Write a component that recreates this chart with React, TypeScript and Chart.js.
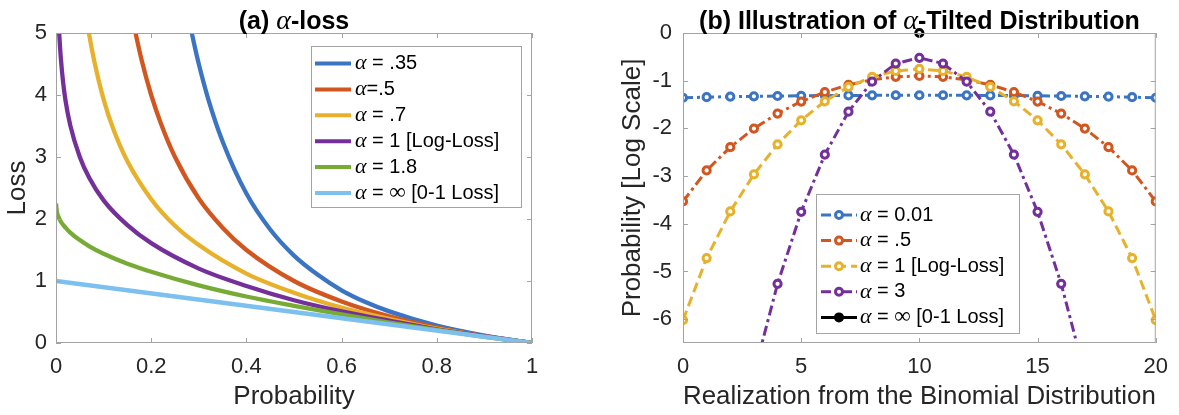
import React, { useEffect, useRef } from "react";
import { Chart, registerables } from "chart.js";
Chart.register(...registerables);

const SANS = "'Liberation Sans', Arial, Helvetica, sans-serif";
const SERIF = "'Liberation Serif', 'Times New Roman', serif";
const TEXT = "#262626";
const FRAME = "#a3a3a3";

// ---------- Panel (a): alpha-loss ----------
const A_TITLE = "(a) α-loss";
const A_X_TICKS = [0, 0.2, 0.4, 0.6, 0.8, 1];
const A_X_TICK_LABELS = ["0", "0.2", "0.4", "0.6", "0.8", "1"];
const A_Y_TICKS = [0, 1, 2, 3, 4, 5];
const A_Y_TICK_LABELS = ["0", "1", "2", "3", "4", "5"];

const A_P_035 = [0.28, 0.29, 0.3, 0.32, 0.35, 0.4, 0.45, 0.5, 0.55, 0.6, 0.65, 0.7, 0.8, 0.9, 1.0];
const A_L_035 = [5.19, 4.83, 4.5, 3.93, 3.25, 2.41, 1.83, 1.41, 1.1, 0.85, 0.66, 0.51, 0.28, 0.12, 0];
const A_P_05 = [0.16, 0.18, 0.2, 0.22, 0.25, 0.3, 0.35, 0.4, 0.5, 0.6, 0.7, 0.8, 0.9, 1.0];
const A_L_05 = [5.25, 4.56, 4.0, 3.55, 3.0, 2.33, 1.86, 1.5, 1.0, 0.67, 0.43, 0.25, 0.11, 0];
const A_P_07 = [0.06, 0.07, 0.08, 0.1, 0.12, 0.15, 0.2, 0.25, 0.3, 0.4, 0.5, 0.6, 0.7, 0.8, 0.9, 1.0];
const A_L_07 = [5.46, 4.96, 4.56, 3.93, 3.46, 2.93, 2.32, 1.89, 1.58, 1.12, 0.81, 0.57, 0.39, 0.23, 0.11, 0];
const A_P_1 = [0.005, 0.007, 0.01, 0.015, 0.02, 0.03, 0.05, 0.07, 0.1, 0.15, 0.2, 0.3, 0.4, 0.5, 0.6, 0.7, 0.8, 0.9, 1.0];
const A_L_1 = [5.3, 4.96, 4.61, 4.2, 3.91, 3.51, 3.0, 2.66, 2.3, 1.9, 1.61, 1.2, 0.92, 0.69, 0.51, 0.36, 0.22, 0.11, 0];
const A_P_18 = [0, 0.002, 0.005, 0.01, 0.02, 0.03, 0.05, 0.07, 0.1, 0.15, 0.2, 0.3, 0.4, 0.5, 0.6, 0.7, 0.8, 0.9, 1.0];
const A_L_18 = [2.25, 2.11, 2.04, 1.96, 1.86, 1.78, 1.66, 1.56, 1.44, 1.28, 1.15, 0.93, 0.75, 0.6, 0.46, 0.33, 0.21, 0.1, 0];
const A_P_INF = [0, 0.5, 1.0];
const A_L_INF = [1.0, 0.5, 0];

const A_LABELS = ["α = .35", "α=.5", "α = .7", "α = 1 [Log-Loss]", "α = 1.8", "α = ∞ [0-1 Loss]"];
const A_XS = [A_P_035, A_P_05, A_P_07, A_P_1, A_P_18, A_P_INF];
const A_YS = [A_L_035, A_L_05, A_L_07, A_L_1, A_L_18, A_L_INF];
const A_COLORS = ["#3c74c4", "#d2561f", "#e8b12c", "#74309a", "#78ab36", "#7cc0f0"];

// ---------- Panel (b): alpha-tilted distribution ----------
const B_TITLE = "(b) Illustration of α-Tilted Distribution";
const B_X = [0, 1, 2, 3, 4, 5, 6, 7, 8, 9, 10, 11, 12, 13, 14, 15, 16, 17, 18, 19, 20];
const B_X_TICKS = [0, 5, 10, 15, 20];
const B_X_TICK_LABELS = ["0", "5", "10", "15", "20"];
const B_Y_TICKS = [0, -1, -2, -3, -4, -5, -6];
const B_Y_TICK_LABELS = ["0", "-1", "-2", "-3", "-4", "-5", "-6"];

const B_A001 = [-1.358, -1.345, -1.335, -1.327, -1.321, -1.316, -1.312, -1.309, -1.307, -1.305, -1.305,
  -1.305, -1.307, -1.309, -1.312, -1.316, -1.321, -1.327, -1.335, -1.345, -1.358];
const B_A05 = [-3.532, -2.881, -2.393, -2.004, -1.689, -1.437, -1.238, -1.087, -0.982, -0.919, -0.899,
  -0.919, -0.982, -1.087, -1.238, -1.437, -1.689, -2.004, -2.393, -2.881, -3.532];
const B_A1 = [-6.021, -4.72, -3.742, -2.964, -2.335, -1.83, -1.432, -1.131, -0.92, -0.795, -0.754,
  -0.795, -0.92, -1.131, -1.432, -1.83, -2.335, -2.964, -3.742, -4.72, -6.021];
const B_A3 = [-16.32, -12.42, -9.48, -7.15, -5.26, -3.75, -2.55, -1.65, -1.02, -0.64, -0.52,
  -0.64, -1.02, -1.65, -2.55, -3.75, -5.26, -7.15, -9.48, -12.42, -16.32];
const B_AINF_X = [10];
const B_AINF_Y = [0];

const B_LABELS = ["α = 0.01", "α = .5", "α = 1 [Log-Loss]", "α = 3", "α = ∞ [0-1 Loss]"];
const B_COLORS = ["#3c74c4", "#d2561f", "#e8b12c", "#74309a", "#000000"];
const DASHDOT = [10, 4, 3, 4];
const DASHED = [10, 5];
const B_DASHES = [DASHDOT, DASHDOT, DASHED, DASHDOT, []];

// ---------- helpers ----------
function runsOf(text: string, size: number, bold: boolean) {
  const runs: { t: string; f: string }[] = [];
  let cur = "";
  const sans = `${bold ? "bold " : ""}${size}px ${SANS}`;
  for (const ch of Array.from(text)) {
    if (ch === "α" || ch === "∞") {
      if (cur) runs.push({ t: cur, f: sans });
      cur = "";
      runs.push({ t: ch, f: ch === "α" ? `italic ${Math.round(size * 1.1)}px ${SERIF}` : `${Math.round(size * 1.15)}px ${SERIF}` });
    } else cur += ch;
  }
  if (cur) runs.push({ t: cur, f: sans });
  return runs;
}

function drawRich(ctx: CanvasRenderingContext2D, text: string, x: number, y: number, size: number, align: "left" | "center", bold = false) {
  const runs = runsOf(text, size, bold);
  let total = 0;
  const widths = runs.map((r) => {
    ctx.font = r.f;
    const w = ctx.measureText(r.t).width;
    total += w;
    return w;
  });
  let cx = align === "center" ? x - total / 2 : x;
  ctx.textBaseline = "middle";
  ctx.textAlign = "left";
  ctx.fillStyle = "#000";
  runs.forEach((r, i) => {
    ctx.font = r.f;
    ctx.fillText(r.t, cx, y);
    cx += widths[i];
  });
}

function framePlugin(opts: {
  title: string;
  legend: { x: number; y: number; w: number; h: number; rowY: number; rowStep: number; x0: number; x1: number; tx: number; size: number };
  labels: string[];
  colors: string[];
  dashes?: number[][];
  markers?: boolean;
  lineWidth: number;
}) {
  return {
    id: "frame_" + opts.title.length,
    afterDraw(chart: any) {
      const ctx: CanvasRenderingContext2D = chart.ctx;
      const { left, right, top, bottom } = chart.chartArea;
      const xs = chart.scales.x;
      const ys = chart.scales.y;
      ctx.save();
      ctx.strokeStyle = FRAME;
      ctx.lineWidth = 1;
      ctx.setLineDash([]);
      ctx.strokeRect(left + 0.5, top + 0.5, right - left - 1, bottom - top - 1);
      const TL = 5;
      ctx.beginPath();
      xs.ticks.forEach((t: any) => {
        const px = Math.round(xs.getPixelForValue(t.value)) + 0.5;
        ctx.moveTo(px, bottom);
        ctx.lineTo(px, bottom - TL);
        ctx.moveTo(px, top);
        ctx.lineTo(px, top + TL);
      });
      ys.ticks.forEach((t: any) => {
        const py = Math.round(ys.getPixelForValue(t.value)) + 0.5;
        ctx.moveTo(left, py);
        ctx.lineTo(left + TL, py);
        ctx.moveTo(right, py);
        ctx.lineTo(right - TL, py);
      });
      ctx.stroke();

      // title
      drawRich(ctx, opts.title, (left + right) / 2, 22, 25, "center", true);

      // legend
      const L = opts.legend;
      ctx.fillStyle = "#fff";
      ctx.fillRect(L.x, L.y, L.w, L.h);
      ctx.strokeStyle = FRAME;
      ctx.lineWidth = 1;
      ctx.strokeRect(L.x + 0.5, L.y + 0.5, L.w, L.h);
      opts.labels.forEach((lab, i) => {
        const y = L.rowY + L.rowStep * i;
        const dash = opts.dashes ? opts.dashes[i] : [];
        ctx.strokeStyle = opts.colors[i];
        ctx.lineWidth = opts.lineWidth;
        ctx.setLineDash(dash);
        ctx.lineDashOffset = 0;
        ctx.beginPath();
        ctx.moveTo(L.x0, y);
        ctx.lineTo(L.x1, y);
        ctx.stroke();
        ctx.setLineDash([]);
        if (opts.markers) {
          const mx = (L.x0 + L.x1) / 2;
          ctx.beginPath();
          ctx.arc(mx, y, 3.5, 0, Math.PI * 2);
          const solid = !dash || dash.length === 0;
          ctx.fillStyle = solid ? opts.colors[i] : "#fff";
          ctx.fill();
          ctx.lineWidth = 3;
          ctx.strokeStyle = opts.colors[i];
          ctx.stroke();
        }
        drawRich(ctx, lab, L.tx, y, L.size, "left");
      });
      ctx.restore();
    },
  };
}

function axisCommon(ticks: number[], labels: string[], min: number, max: number, pad: number, fit: (s: any) => void, title: string, titlePad: any) {
  return {
    type: "linear" as const,
    min,
    max,
    afterBuildTicks: (s: any) => {
      s.ticks = ticks.map((v) => ({ value: v }));
    },
    afterFit: fit,
    grid: { display: false, drawTicks: false },
    border: { display: false },
    ticks: {
      font: { family: SANS, size: 22 },
      color: TEXT,
      padding: pad,
      maxRotation: 0,
      autoSkip: false,
      callback: (v: any) => {
        const k = ticks.indexOf(Number(v));
        return k >= 0 ? labels[k] : "";
      },
    },
    title: { display: true, text: title, font: { family: SANS, size: 26 }, color: TEXT, padding: titlePad },
  };
}

function configA(): any {
  return {
    type: "line",
    data: {
      datasets: A_LABELS.map((lab, i) => ({
        label: lab,
        data: A_XS[i].map((x, j) => ({ x, y: A_YS[i][j] })),
        borderColor: A_COLORS[i],
        borderWidth: 4.3,
        pointRadius: 0,
        fill: false,
        cubicInterpolationMode: "monotone",
        order: A_LABELS.length - i,
      })),
    },
    options: {
      responsive: false,
      animation: false,
      devicePixelRatio: 1,
      layout: { padding: { left: 0, right: 68, top: 33, bottom: 0 } },
      plugins: { legend: { display: false }, tooltip: { enabled: false }, title: { display: false } },
      scales: {
        x: axisCommon(A_X_TICKS, A_X_TICK_LABELS, 0, 1, 11, (s: any) => { s.height = 72; }, "Probability", { top: 0, bottom: 3 }),
        y: axisCommon(A_Y_TICKS, A_Y_TICK_LABELS, 0, 5, 9, (s: any) => { s.width = 56; }, "Loss", { top: 2, bottom: 0 }),
      },
    },
    plugins: [
      framePlugin({
        title: A_TITLE,
        legend: { x: 311, y: 46, w: 210, h: 161, rowY: 63.5, rowStep: 25.9, x0: 315, x1: 351, tx: 355, size: 20 },
        labels: A_LABELS,
        colors: A_COLORS,
        lineWidth: 4,
      }),
    ],
  };
}

function configB(): any {
  const series = [B_A001, B_A05, B_A1, B_A3];
  const datasets: any[] = series.map((ys, i) => ({
    label: B_LABELS[i],
    data: B_X.map((x, j) => ({ x, y: ys[j] })),
    borderColor: B_COLORS[i],
    borderWidth: 3,
    borderDash: B_DASHES[i],
    pointRadius: 3.6,
    pointBorderWidth: 3,
    pointBackgroundColor: "#fff",
    pointBorderColor: B_COLORS[i],
    fill: false,
    tension: 0,
    order: 10 - i,
  }));
  datasets.push({
    label: B_LABELS[4],
    data: B_AINF_X.map((x, j) => ({ x, y: B_AINF_Y[j] })),
    borderColor: "#000",
    borderWidth: 3,
    pointRadius: 3.6,
    pointBorderWidth: 3,
    pointBackgroundColor: "#fff",
    pointBorderColor: "#000",
    clip: false,
    order: 1,
  });
  return {
    type: "line",
    data: { datasets },
    options: {
      responsive: false,
      animation: false,
      devicePixelRatio: 1,
      layout: { padding: { left: 0, right: 20, top: 33, bottom: 0 } },
      plugins: { legend: { display: false }, tooltip: { enabled: false }, title: { display: false } },
      scales: {
        x: axisCommon(B_X_TICKS, B_X_TICK_LABELS, 0, 20, 11, (s: any) => { s.height = 72; }, "Realization from the Binomial Distribution", { top: 0, bottom: 3 }),
        y: axisCommon(B_Y_TICKS, B_Y_TICK_LABELS, -6.5, 0, 11, (s: any) => { s.width = 83; }, "Probability [Log Scale]", { top: 17, bottom: 0 }),
      },
    },
    plugins: [
      framePlugin({
        title: B_TITLE,
        legend: { x: 216, y: 194, w: 203, h: 139, rowY: 215, rowStep: 25.6, x0: 221, x1: 257, tx: 260, size: 20 },
        labels: B_LABELS,
        colors: B_COLORS,
        dashes: B_DASHES,
        markers: true,
        lineWidth: 3,
      }),
    ],
  };
}

export default function App() {
  const refA = useRef<HTMLCanvasElement>(null);
  const refB = useRef<HTMLCanvasElement>(null);
  useEffect(() => {
    const a = new Chart(refA.current!, configA());
    const b = new Chart(refB.current!, configB());
    return () => {
      a.destroy();
      b.destroy();
    };
  }, []);
  return (
    <div style={{ position: "absolute", left: 0, top: 0, width: 1179, height: 415, background: "#fff" }}>
      <canvas ref={refA} width={600} height={415} style={{ position: "absolute", left: 0, top: 0, width: 600, height: 415 }} />
      <canvas ref={refB} width={579} height={415} style={{ position: "absolute", left: 600, top: 0, width: 579, height: 415 }} />
    </div>
  );
}
